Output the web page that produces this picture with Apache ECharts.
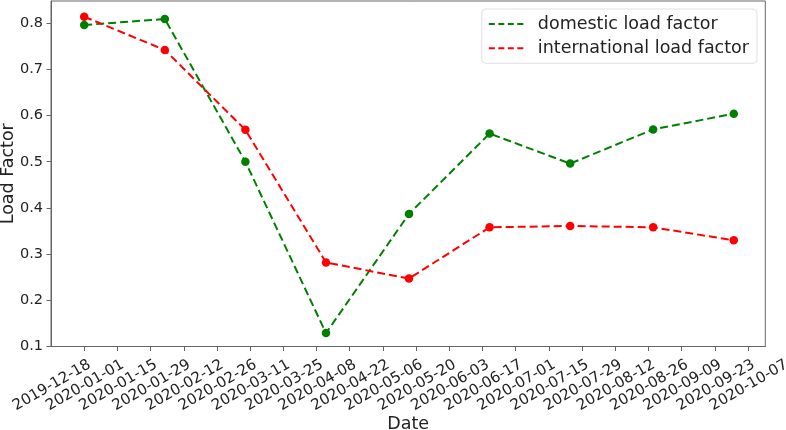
<!DOCTYPE html>
<html><head><meta charset="utf-8">
<script src="https://cdn.jsdelivr.net/npm/echarts@6/dist/echarts.min.js"></script>
<style>html,body{margin:0;padding:0;background:#fff}#c{width:786px;height:430px}</style>
</head><body><div id="c"></div>
<script>
// ---- data ----
const pointDates = ['2019-12-18','2020-01-21','2020-02-24','2020-03-29','2020-05-03','2020-06-06','2020-07-10','2020-08-14','2020-09-17'];
const domestic = [0.796, 0.809, 0.500, 0.129, 0.387, 0.561, 0.496, 0.570, 0.604];
const international = [0.814, 0.742, 0.569, 0.282, 0.247, 0.358, 0.361, 0.358, 0.330];
const tickDates = ['2019-12-18','2020-01-01','2020-01-15','2020-01-29','2020-02-12','2020-02-26','2020-03-11','2020-03-25','2020-04-08','2020-04-22','2020-05-06','2020-05-20','2020-06-03','2020-06-17','2020-07-01','2020-07-15','2020-07-29','2020-08-12','2020-08-26','2020-09-09','2020-09-23','2020-10-07'];
const yTicks = [0.1, 0.2, 0.3, 0.4, 0.5, 0.6, 0.7, 0.8];
const seriesNames = ['domestic load factor', 'international load factor'];
const seriesColors = ['#008000', '#ff0000'];

// ---- helpers ----
const BASE = Date.UTC(2019, 11, 18);
function toDays(s) { const p = s.split('-').map(Number); return (Date.UTC(p[0], p[1]-1, p[2]) - BASE) / 86400000; }
const tickVals = tickDates.map(toDays);
const labelMap = {};
tickDates.forEach((d, i) => { labelMap[tickVals[i]] = d; });
const FONT = 'DejaVu Sans';
const TXT = '#222';
const AX = '#666';
const XMAX = 287.3;
const XL_FONT = 15, XL_MARGIN = 11.5, XL_PAD = [0, -2, 0, 0];

const chart = echarts.init(document.getElementById('c'), null, {renderer: 'canvas'});
function mk(vals) { return pointDates.map((d, i) => [toDays(d), vals[i]]); }

chart.setOption({
  animation: false,
  backgroundColor: '#fff',
  grid: {left: 51, right: 20.7, top: 1, bottom: 83.5, containLabel: false, outerBoundsMode: 'none',
         show: true, borderColor: AX, borderWidth: 1, backgroundColor: 'transparent'},
  xAxis: {
    type: 'value', min: -14, max: XMAX,
    name: 'Date', nameLocation: 'middle', nameGap: 68.5, nameMoveOverlap: false,
    nameTextStyle: {fontFamily: FONT, fontSize: 17.5, color: TXT},
    axisLine: {show: true, onZero: false, lineStyle: {color: AX, width: 1}},
    axisTick: {show: true, length: 4.5, lineStyle: {color: AX}, customValues: tickVals.filter(v => v <= XMAX)},
    axisLabel: {
      fontFamily: FONT, fontSize: XL_FONT, color: TXT,
      customValues: tickVals.filter(v => v <= XMAX), hideOverlap: false,
      rotate: 30, margin: XL_MARGIN, align: 'right', verticalAlign: 'top', padding: XL_PAD,
      formatter: v => labelMap[v] || ''
    },
    splitLine: {show: false}
  },
  yAxis: {
    type: 'value', min: 0.1, max: 0.848, interval: 0.1,
    name: 'Load Factor', nameLocation: 'middle', nameGap: 34, nameMoveOverlap: false,
    nameTextStyle: {fontFamily: FONT, fontSize: 17.5, color: TXT},
    axisLine: {show: true, onZero: false, lineStyle: {color: AX, width: 1}},
    axisTick: {show: true, length: 4.5, lineStyle: {color: AX}, customValues: yTicks},
    axisLabel: {fontFamily: FONT, fontSize: 14.5, color: TXT, customValues: yTicks, margin: 8, formatter: v => v.toFixed(1)},
    splitLine: {show: false}
  },
  legend: {
    orient: 'vertical', right: 29, top: 9,
    padding: [5, 8, 5, 6], itemWidth: 36, itemHeight: 14, itemGap: 4.3,
    backgroundColor: 'rgba(255,255,255,0.85)', borderColor: '#e0e0e0', borderWidth: 1, borderRadius: 4,
    textStyle: {fontFamily: FONT, fontSize: 17.5, color: TXT, lineHeight: 20, padding: [0, 0, 0, 8]},
    itemStyle: {opacity: 0},
    lineStyle: {type: [6, 3.5], width: 2},
    data: seriesNames
  },
  series: [
    {name: seriesNames[0], type: 'line', data: mk(domestic), symbol: 'circle', symbolSize: 8.5,
     lineStyle: {type: [8, 4], width: 2, color: seriesColors[0]}, itemStyle: {color: seriesColors[0]}},
    {name: seriesNames[1], type: 'line', data: mk(international), symbol: 'circle', symbolSize: 8.5,
     lineStyle: {type: [8, 4], width: 2, color: seriesColors[1]}, itemStyle: {color: seriesColors[1]}}
  ]
});

// label for the last tick date, which lies beyond the plotted range
const extra = tickVals.filter(v => v > XMAX);
const gx = extra.map(v => {
  const px = chart.convertToPixel({xAxisIndex: 0}, v);
  const py = chart.convertToPixel({yAxisIndex: 0}, 0.1);
  return {type: 'text', x: px, y: py + XL_MARGIN, rotation: Math.PI / 6, silent: true,
    style: {text: labelMap[v], fontFamily: FONT, fontSize: XL_FONT, fill: TXT, align: 'right', verticalAlign: 'top', padding: XL_PAD}};
});
chart.setOption({graphic: gx});
</script>
</body></html>
